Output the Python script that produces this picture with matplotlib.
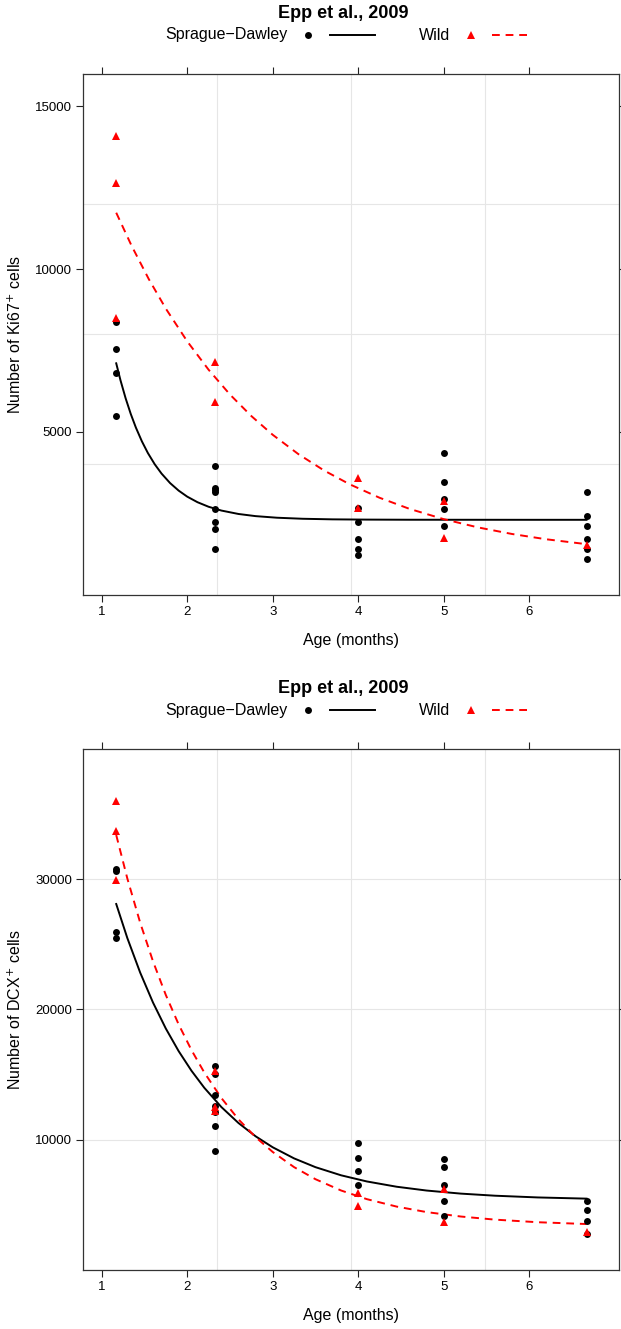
import matplotlib
matplotlib.use("Agg")
import matplotlib.pyplot as plt
from matplotlib.lines import Line2D

plt.rcParams['font.family'] = ['Liberation Sans', 'DejaVu Sans']

# ages of the sampled groups (months)
ages = [1.17, 2.33, 4.0, 5.0, 6.67]

# Ki67+ counts, Sprague-Dawley
ki67_sd = [
    [8365, 7540, 6818, 5497],
    [3960, 3270, 3210, 3140, 2630, 2240, 2020, 1410],
    [2650, 2240, 1710, 1400, 1230],
    [4361, 3461, 2948, 2632, 2119],
    [3163, 2426, 2119, 1711, 1404, 1096],
]
# Ki67+ counts, Wild
ki67_wild = [
    [14087, 12653, 8488],
    [7155, 5927],
    [3584, 2662],
    [2868, 1750],
    [1535],
]

# DCX+ counts, Sprague-Dawley
dcx_sd = [
    [30800, 30600, 25970, 25460],
    [15650, 15000, 13420, 12580, 12090, 11060, 9140],
    [9710, 8600, 7600, 6510],
    [8480, 7910, 6530, 5300, 4150],
    [5300, 4610, 3760, 2740],
]
# DCX+ counts, Wild
dcx_wild = [
    [36030, 33700, 29900],
    [15300, 12520, 12200],
    [5870, 4890],
    [6180, 3690],
    [2920],
]

# fitted curves
sd_ki67_cx = [1.17, 1.22, 1.28, 1.34, 1.40, 1.47, 1.54, 1.62, 1.70, 1.80, 1.90, 2.00, 2.12,
              2.25, 2.40, 2.60, 2.80, 3.05, 3.35, 3.7, 4.1, 4.6, 5.2, 6.0, 6.67]
sd_ki67_cy = [7106, 6584, 6032, 5551, 5132, 4711, 4352, 4007, 3720, 3428, 3197, 3012, 2841,
              2701, 2584, 2479, 2413, 2364, 2332, 2314, 2306, 2302, 2301, 2300, 2300]
wild_ki67_cx = [1.17, 1.35, 1.55, 1.75, 2.0, 2.25, 2.5, 2.75, 3.0, 3.3, 3.6, 3.9, 4.25,
                4.6, 5.0, 5.4, 5.8, 6.2, 6.67]
wild_ki67_cy = [11731, 10714, 9696, 8786, 7782, 6910, 6148, 5487, 4911, 4318, 3816, 3391, 2977,
                2636, 2320, 2067, 1864, 1702, 1552]
dcx_cx = [1.17, 1.3, 1.45, 1.6, 1.75, 1.9, 2.05, 2.2, 2.4, 2.6, 2.8, 3.0, 3.25, 3.5, 3.8,
          4.1, 4.45, 4.8, 5.2, 5.6, 6.1, 6.67]
sd_dcx_cy = [28093, 25475, 22826, 20524, 18526, 16791, 15284, 13975, 12493, 11267, 10249,
             9405, 8551, 7877, 7251, 6780, 6373, 6081, 5845, 5684, 5551, 5459]
wild_dcx_cy = [33394, 30054, 26659, 23692, 21104, 18844, 16872, 15148, 13186, 11549, 10183,
               9045, 7880, 6953, 6084, 5422, 4847, 4426, 4085, 3846, 3647, 3508]

W, H = 621, 1329
fig = plt.figure(figsize=(W / 100, H / 100), dpi=100)


def panel(rect, sd, wild, sd_cx, sd_cy, w_cx, w_cy, ylim, yticks, ylabel):
    ax = fig.add_axes(rect)
    ax.set_xlim(0.785, 7.05)
    ax.set_ylim(*ylim)
    # lattice style grid: 3 lines each way, evenly spaced
    x0, x1 = ax.get_xlim()
    y0, y1 = ax.get_ylim()
    for i in range(1, 4):
        ax.axvline(x0 + (x1 - x0) * i / 4, color='#e6e6e6', lw=0.8, zorder=0)
        ax.axhline(y0 + (y1 - y0) * i / 4, color='#e6e6e6', lw=0.8, zorder=0)
    for a, vals in zip(ages, sd):
        ax.plot([a] * len(vals), vals, 'o', color='black', ms=5, mew=0, zorder=3)
    for a, vals in zip(ages, wild):
        ax.plot([a] * len(vals), vals, '^', color='red', ms=6.2, mew=0, zorder=4)
    ax.plot(sd_cx, sd_cy, color='black', lw=1.4, zorder=2, solid_joinstyle='round')
    ax.plot(w_cx, w_cy, color='red', lw=1.4, ls=(0, (4, 3)), zorder=2)
    ax.set_xticks([1, 2, 3, 4, 5, 6])
    ax.set_yticks(yticks)
    ax.tick_params(direction='out', length=5, width=0.8, labelsize=9.5, pad=3,
                   top=True, right=True, labeltop=False, labelright=False,
                   colors='#222222', labelcolor='black')
    for s in ax.spines.values():
        s.set_linewidth(0.9)
        s.set_color('#333333')
    ax.set_xlabel('Age (months)', fontsize=11.5, labelpad=11)
    ax.set_ylabel(ylabel, fontsize=11.5, labelpad=8)
    return ax


def header(ytitle, ykey):
    fig.text(343 / W, 1 - ytitle / H, 'Epp et al., 2009', ha='center', va='center',
             fontsize=13, fontweight='bold')
    yk = 1 - ykey / H
    fig.text(288 / W, yk, 'Sprague\u2212Dawley', ha='right', va='center', fontsize=11.5)
    fig.add_artist(Line2D([308 / W], [yk], marker='o', color='black', ms=5, mew=0))
    fig.add_artist(Line2D([330 / W, 375 / W], [yk, yk], color='black', lw=1.4))
    fig.text(450 / W, yk, 'Wild', ha='right', va='center', fontsize=11.5)
    fig.add_artist(Line2D([471 / W], [yk], marker='^', color='red', ms=6.2, mew=0))
    fig.add_artist(Line2D([492 / W, 532 / W], [yk, yk], color='red', lw=1.4, ls=(0, (4, 3))))


left = 83.3 / W
width = (619 - 83.3) / W
panel([left, 1 - 594.7 / H, width, 521 / H], ki67_sd, ki67_wild,
      sd_ki67_cx, sd_ki67_cy, wild_ki67_cx, wild_ki67_cy,
      (0, 16000), [5000, 10000, 15000], 'Number of Ki67$^{+}$ cells')
header(14, 35)

panel([left, 1 - 1269.7 / H, width, 520.7 / H], dcx_sd, dcx_wild,
      dcx_cx, sd_dcx_cy, dcx_cx, wild_dcx_cy,
      (0, 40000), [10000, 20000, 30000], 'Number of DCX$^{+}$ cells')
header(689, 710)

fig.savefig('out.png', dpi=100)
